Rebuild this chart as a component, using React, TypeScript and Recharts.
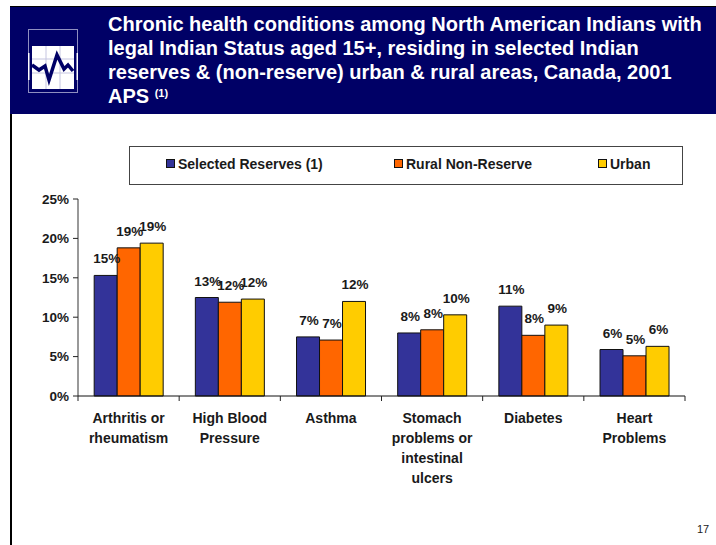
import React from "react";
import { BarChart, Bar, XAxis, YAxis, LabelList, Legend } from "recharts";

const FONT = "'Liberation Sans', Arial, sans-serif";

const titleLines = [
  "Chronic health conditions among North American Indians with",
  "legal Indian Status aged 15+, residing in selected Indian",
  "reserves & (non-reserve) urban & rural areas, Canada, 2001",
];

const categories = [
  "Arthritis or\nrheumatism",
  "High Blood\nPressure",
  "Asthma",
  "Stomach\nproblems or\nintestinal\nulcers",
  "Diabetes",
  "Heart\nProblems",
];
const reserves = [15.3, 12.5, 7.5, 8.0, 11.4, 5.9];
const rural = [18.8, 11.9, 7.1, 8.4, 7.7, 5.1];
const urban = [19.4, 12.3, 12.0, 10.3, 9.0, 6.3];
const reservesLabels = ["15%", "13%", "7%", "8%", "11%", "6%"];
const ruralLabels = ["19%", "12%", "7%", "8%", "8%", "5%"];
const urbanLabels = ["19%", "12%", "12%", "10%", "9%", "6%"];
const yTicks = [0, 5, 10, 15, 20, 25];

const data = categories.map((name, i) => ({
  name,
  reserves: reserves[i],
  rural: rural[i],
  urban: urban[i],
  reservesLabel: reservesLabels[i],
  ruralLabel: ruralLabels[i],
  urbanLabel: urbanLabels[i],
}));

const W = 716;
const H = 545;
const PLOT_LEFT = 78;
const PLOT_RIGHT = 685;
const BAND = (PLOT_RIGHT - PLOT_LEFT) / categories.length;

function CategoryTick({ x, y, payload, index }: any) {
  const lines = String(payload.value).split("\n");
  const cx = payload.coordinate ?? x;
  const left = cx - BAND / 2;
  return (
    <g>
      <line x1={left} x2={left} y1={396} y2={401} stroke="#222" />
      {index === categories.length - 1 && (
        <line x1={left + BAND} x2={left + BAND} y1={396} y2={401} stroke="#222" />
      )}
      <text textAnchor="middle" fontSize={14} fontWeight="bold" fill="#1a1a1a" fontFamily={FONT}>
        {lines.map((l, i) => (
          <tspan key={i} x={cx} y={423 + i * 20}>
            {l}
          </tspan>
        ))}
      </text>
    </g>
  );
}

const legendLeft = [36, 264, 468];

function LegendBox({ payload }: any) {
  return (
    <div
      style={{
        position: "relative",
        width: 552,
        height: 37,
        border: "1px solid #444",
        background: "#fff",
        fontFamily: FONT,
        fontSize: 14,
        fontWeight: "bold",
        color: "#1a1a1a",
      }}
    >
      {(payload ?? []).map((p: any, i: number) => (
        <div
          key={p.value}
          style={{ position: "absolute", left: legendLeft[i], top: -2, height: 37, display: "flex", alignItems: "center", whiteSpace: "nowrap" }}
        >
          <span
            style={{ display: "inline-block", width: 7, height: 7, marginRight: 3, background: p.color, border: "1px solid #111" }}
          />
          {p.value}
        </div>
      ))}
    </div>
  );
}

function renderBars(key: string, label: string, name: string, fill: string) {
  return (
    <Bar dataKey={key} name={name} fill={fill} stroke="#111" strokeWidth={1} isAnimationActive={false}>
      <LabelList
        dataKey={label}
        position="top"
        offset={12}
        dx={1}
        fontSize={13.5}
        fontWeight="bold"
        fill="#1a1a1a"
        fontFamily={FONT}
      />
    </Bar>
  );
}

function Icon() {
  return (
    <svg width={54} height={66} style={{ position: "absolute", left: 26, top: 28 }}>
      <rect x={2.5} y={1.5} width={49} height={63} fill="none" stroke="#8f8fc0" />
      <rect x={6} y={18} width={42} height={43} fill="#fff" />
      <rect x={2} y={25} width={1.5} height={27} fill="#fff" />
      <rect x={50.5} y={25} width={1.5} height={27} fill="#fff" />
      <path d="M20 18V61M34 18V61M6 31H48M6 45H48" stroke="#c5c5e0" fill="none" />
      <polyline
        points="6,37 13,42 19,38 23,52 31,27 38,41 42,37 47,43"
        fill="none"
        stroke="#000066"
        strokeWidth={3.5}
      />
    </svg>
  );
}

export default function App() {
  return (
    <div style={{ position: "absolute", left: 0, top: 0, width: W, height: H, background: "#fff", overflow: "hidden" }}>
      <div style={{ position: "absolute", left: 10, top: 6, width: 2, height: H, background: "#000" }} />
      <div
        style={{
          position: "absolute",
          left: 10,
          top: 6,
          width: W - 10,
          height: 108,
          background: "#000066",
          borderTop: "1px solid #000",
          boxSizing: "border-box",
        }}
      />
      <Icon />
      <div
        style={{
          position: "absolute",
          left: 108,
          top: 12,
          color: "#fff",
          fontFamily: FONT,
          fontSize: 20,
          fontWeight: "bold",
          lineHeight: "24px",
          whiteSpace: "nowrap",
        }}
      >
        {titleLines.map((l) => (
          <div key={l}>{l}</div>
        ))}
        <div>
          APS <sup style={{ fontSize: 11, lineHeight: 0, verticalAlign: "6px" }}>(1)</sup>
        </div>
      </div>
      <div style={{ position: "absolute", left: 0, top: 0 }}>
        <BarChart
          width={W}
          height={H}
          data={data}
          margin={{ top: 199, right: W - PLOT_RIGHT, bottom: 0, left: 0 }}
          barGap={0}
          barCategoryGap="16%"
        >
          <YAxis
            width={PLOT_LEFT}
            domain={[0, 25]}
            ticks={yTicks}
            tickFormatter={(v: number) => `${v}%`}
            interval={0}
            tick={{ fontSize: 13.5, fontWeight: "bold", fill: "#1a1a1a", fontFamily: FONT, dx: -2 }}
            tickLine={{ stroke: "#222" }}
            tickSize={5}
            axisLine={{ stroke: "#777", strokeWidth: 1.5 }}
          />
          <XAxis
            dataKey="name"
            height={H - 396}
            interval={0}
            tick={<CategoryTick />}
            tickLine={false}
            axisLine={{ stroke: "#111" }}
          />
          <Legend
            layout="horizontal"
            verticalAlign="middle"
            itemSorter={null}
            content={<LegendBox />}
            wrapperStyle={{ left: 129, top: 146, width: 554, bottom: "auto", right: "auto" }}
          />
          {renderBars("reserves", "reservesLabel", "Selected Reserves (1)", "#333399")}
          {renderBars("rural", "ruralLabel", "Rural Non-Reserve", "#FF6600")}
          {renderBars("urban", "urbanLabel", "Urban", "#FFCC00")}
        </BarChart>
      </div>
      <div style={{ position: "absolute", left: 697, top: 523, fontFamily: FONT, fontSize: 11, color: "#222" }}>17</div>
    </div>
  );
}
